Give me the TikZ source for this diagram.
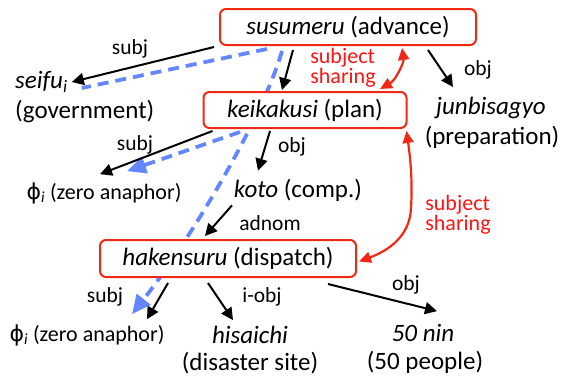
\documentclass[tikz,border=0pt]{standalone}
\usepackage{fontspec}
\setmainfont{Carlito}
\newfontfamily\symf{DejaVu Sans}
\usetikzlibrary{arrows.meta,backgrounds}
\definecolor{boxred}{RGB}{240,40,20}
\definecolor{txtred}{RGB}{255,20,20}
\definecolor{corefblue}{RGB}{100,135,255}
\newcommand\mainfnt{\fontsize{25}{28}\selectfont}
\newcommand\phifnt{\fontsize{22}{26}\selectfont}
\newcommand\labfnt{\fontsize{21.5}{24}\selectfont}
\newcommand\redfnt{\fontsize{22}{20}\selectfont}
\newcommand\phisym{{\symf ϕ}\textsubscript{\textit{i}}}
\begin{document}
\begin{tikzpicture}[x=1pt,y=-1pt,
  box/.style={draw=boxred, line width=2pt, rounded corners=6pt, fill=white, inner sep=0pt, font=\mainfnt},
  word/.style={inner sep=0pt, font=\mainfnt},
  phiw/.style={inner sep=0pt, font=\phifnt},
  lab/.style={inner sep=0pt, font=\labfnt},
  redlab/.style={inner sep=0pt, font=\redfnt, text=txtred, align=left},
  dep/.style={draw=black, line width=2pt, -{Triangle[length=12pt,width=12pt]}},
  coref/.style={draw=corefblue, line width=3.8pt, dash pattern=on 11pt off 7pt},
  corefarrow/.style={coref, -{Triangle[length=19pt,width=17pt]}},
  share/.style={draw=boxred, line width=2.2pt, {Triangle[length=12pt,width=11pt]}-{Triangle[length=12pt,width=11pt]}}
]
\useasboundingbox (0,0) rectangle (561,380);
% boxes
\node[box, minimum width=256pt, minimum height=36pt] (sus) at (348,27) {\textit{susumeru} (advance)};
\node[box, minimum width=203pt, minimum height=36pt] (kei) at (305,110) {\textit{keikakusi} (plan)};
\node[box, minimum width=256pt, minimum height=37pt] (hak) at (228,258.5) {\textit{hakensuru} (dispatch)};
% words
\node[word, anchor=west] (seifu) at (15,82) {\textit{seifu}\textsubscript{\textit{i}}};
\node[word, anchor=west] (gov) at (15,112) {(government)};
\node[word] (junb) at (491,108) {\textit{junbisagyo}};
\node[word] (prep) at (492,137) {(preparation)};
\node[phiw] (phi1) at (104,193) {\phisym{} (zero anaphor)};
\node[word] (koto) at (298,190) {\textit{koto} (comp.)};
\node[phiw] (phi2) at (87,335) {\phisym{} (zero anaphor)};
\node[word] (hisa) at (250,335) {\textit{hisaichi}};
\node[word] (dis) at (250,363) {(disaster site)};
\node[word] (nin) at (423,333) {\textit{50 nin}};
\node[word] (ppl) at (425,362) {(50 people)};
% red labels
\node[redlab] (ss1) at (343,68) {subject\\sharing};
\node[redlab] (ss2) at (458,215) {subject\\sharing};
% edge labels
\node[lab] (l1) at (130,49) {subj};
\node[lab] (l2) at (478,70) {obj};
\node[lab] (l3) at (135,145) {subj};
\node[lab] (l4) at (292,147) {obj};
\node[lab] (l5) at (270,223) {adnom};
\node[lab] (l6) at (105,297) {subj};
\node[lab] (l7) at (262,297) {i-obj};
\node[lab] (l8) at (406,285) {obj};
% coreference (behind boxes)
\begin{pgfonlayer}{background}
\draw[coref] ([xshift=-81pt,yshift=-3pt]sus.south) -- ([xshift=14pt,yshift=-6pt]seifu.east);
\draw[corefarrow] ([xshift=-66pt,yshift=-5pt]sus.south) .. controls (262,120) and (190,240) .. ([xshift=45pt,yshift=10pt]phi2.north);
\draw[corefarrow] ([xshift=-65pt,yshift=-3pt]kei.south) -- ([xshift=23pt,yshift=11pt]phi1.north);
\end{pgfonlayer}
% dependencies
\draw[dep] ([xshift=-5pt,yshift=-1pt]sus.south west) -- ([xshift=4pt]seifu.east);
\draw[dep] ([xshift=-55pt,yshift=-4pt]sus.south) -- ([xshift=-23pt,yshift=1pt]kei.north);
\draw[dep] ([xshift=80pt,yshift=-4pt]sus.south) -- ([xshift=-38pt,yshift=10pt]junb.north);
\draw[dep] ([xshift=10pt,yshift=-2pt]kei.south west) -- ([xshift=-4pt,yshift=8pt]phi1.north);
\draw[dep] ([xshift=-35pt,yshift=-2pt]kei.south) -- ([xshift=-40pt,yshift=8pt]koto.north);
\draw[dep] ([xshift=-66pt,yshift=-4pt]koto.south) -- ([xshift=-23pt,yshift=3pt]hak.north);
\draw[dep] ([xshift=-60pt,yshift=-5pt]hak.south) -- ([xshift=60pt,yshift=5pt]phi2.north);
\draw[dep] ([xshift=-20pt,yshift=-5pt]hak.south) -- ([xshift=-17pt,yshift=6pt]hisa.north);
\draw[dep] ([xshift=100pt,yshift=-6pt]hak.south) -- ([xshift=14pt,yshift=13pt]nin.north);
% subject sharing
\draw[share] ([xshift=54pt,yshift=-2pt]sus.south) .. controls (404,62) and (396,80) .. ([xshift=75pt,yshift=2pt]kei.north);
\draw[share] ([xshift=-1pt,yshift=-2pt]kei.south east) .. controls (412,170) and (412,190) .. (411,208) .. controls (410,235) and (390,250) .. ([xshift=2pt,yshift=-3pt]hak.east);
\end{tikzpicture}
\end{document}
